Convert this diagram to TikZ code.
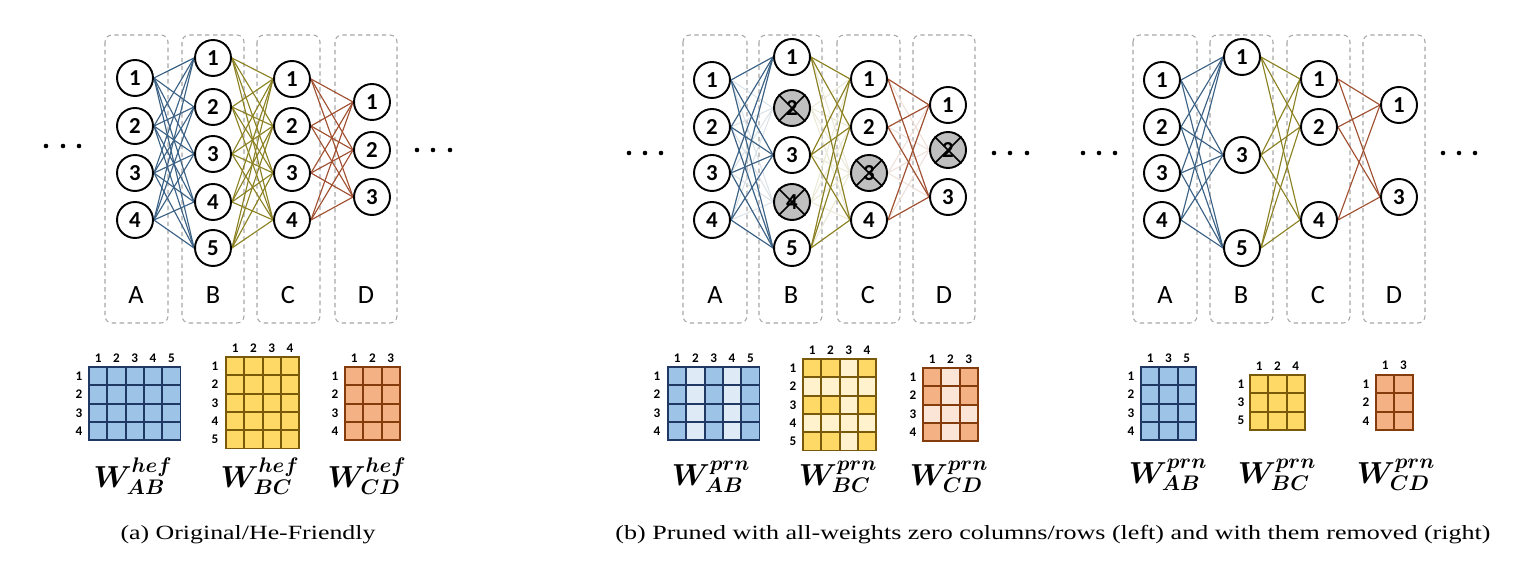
\documentclass[tikz,border=0pt]{standalone}
\usepackage{fontspec}
\usepackage{graphicx}
\usepackage{bm}
\setmainfont{Liberation Serif}
\newfontfamily\calibri{Carlito}
\usetikzlibrary{backgrounds}

\definecolor{edgeab}{RGB}{60,98,134}
\definecolor{edgebc}{RGB}{140,130,35}
\definecolor{edgecd}{RGB}{160,80,48}
\definecolor{cellblue}{RGB}{157,195,230}
\definecolor{cellbluel}{RGB}{222,235,247}
\definecolor{lineblue}{RGB}{31,56,100}
\definecolor{cellyel}{RGB}{255,217,102}
\definecolor{cellyell}{RGB}{255,242,204}
\definecolor{lineyel}{RGB}{120,90,10}
\definecolor{cellor}{RGB}{244,177,131}
\definecolor{cellorl}{RGB}{251,229,214}
\definecolor{lineor}{RGB}{132,60,12}

\tikzset{
  neuron/.style={circle, draw, line width=1.1pt, fill=white, minimum size=0.72cm, inner sep=0pt,
    font=\calibri\bfseries\fontsize{13}{14}\selectfont},
  dropped/.style={neuron, fill=gray!50},
  crossout/.style={line width=0.9pt},
  layerbox/.style={draw=gray!70, dash pattern=on 2.5pt off 2pt, rounded corners=4pt, line width=0.6pt},
  layerlbl/.style={font=\calibri\fontsize{15}{16}\selectfont},
  ab/.style={draw=edgeab, line width=0.65pt},
  bc/.style={draw=edgebc, line width=0.65pt},
  cd/.style={draw=edgecd, line width=0.65pt},
  abfaint/.style={draw=edgeab!18, line width=0.6pt},
  bcfaint/.style={draw=edgebc!18, line width=0.6pt},
  cdfaint/.style={draw=edgecd!18, line width=0.6pt},
  cellab/.style={fill=cellblue, draw=lineblue, line width=1.1pt},
  cellabl/.style={fill=cellbluel, draw=lineblue, line width=1.1pt},
  cellbc/.style={fill=cellyel, draw=lineyel, line width=1.1pt},
  cellbcl/.style={fill=cellyell, draw=lineyel, line width=1.1pt},
  cellcd/.style={fill=cellor, draw=lineor, line width=1.1pt},
  cellcdl/.style={fill=cellorl, draw=lineor, line width=1.1pt},
  idx/.style={font=\calibri\bfseries\fontsize{7.5}{8}\selectfont, inner sep=0pt},
  wlbl/.style={font=\fontsize{17}{19}\selectfont, inner sep=0pt},
  caption/.style={font=\fontsize{11.5}{13}\selectfont, inner sep=0pt}
}

% one weight matrix: x, y, cols, rows, cell style
\newcommand{\weightgrid}[5]{%
  \foreach \c in {1,...,#3} \foreach \r in {1,...,#4}
    \draw[#5] ({#1+(\c-1)*18.3},{#2+(\r-1)*18.3}) rectangle ++(18.3,18.3);
}

\begin{document}
\begin{tikzpicture}[x=0.02cm, y=-0.02cm]
\useasboundingbox (0,0) rectangle (1538,570);

% (a) original network
\foreach \n/\y in {1/78,2/126,3/173,4/220} \node[neuron] (hA\n) at (135,\y) {\n};
\foreach \n/\y in {1/58,2/107,3/154,4/202,5/248} \node[neuron] (hB\n) at (213,\y) {\n};
\foreach \n/\y in {1/79,2/126,3/173,4/220} \node[neuron] (hC\n) at (292,\y) {\n};
\foreach \n/\y in {1/102,2/150,3/197} \node[neuron] (hD\n) at (372,\y) {\n};
\foreach \s/\x in {A/136,B/213,C/288,D/366} \node[layerlbl] (hl\s) at (\x,295) {\s};
\begin{scope}[on background layer]
\foreach \xa/\xb in {105/168,182/244,257/320,335/397} \draw[layerbox] (\xa,35) rectangle (\xb,323);
\foreach \i in {1,...,4} \foreach \j in {1,...,5} \draw[ab] (hA\i.east) -- (hB\j.west);
\foreach \i in {1,...,5} \foreach \j in {1,...,4} \draw[bc] (hB\i.east) -- (hC\j.west);
\foreach \i in {1,...,4} \foreach \j in {1,...,3} \draw[cd] (hC\i.east) -- (hD\j.west);
\end{scope}
\foreach \x in {46,63,79} \fill (\x,146) circle (1.3pt);
\foreach \x in {417,433,450} \fill (\x,150) circle (1.3pt);

% (a) matrices
\weightgrid{89}{367}{5}{4}{cellab}
\weightgrid{226}{357}{4}{5}{cellbc}
\weightgrid{345}{367}{3}{4}{cellcd}
\foreach \c in {1,...,5} \node[idx] (hABc\c) at ({89+(\c-0.5)*18.3},358) {\c};
\foreach \r in {1,...,4} \node[idx] (hABr\r) at (79,{367+(\r-0.5)*18.3}) {\r};
\foreach \c in {1,...,4} \node[idx] (hBCc\c) at ({226+(\c-0.5)*18.3},348) {\c};
\foreach \r in {1,...,5} \node[idx] (hBCr\r) at (215,{357+(\r-0.5)*18.3}) {\r};
\foreach \c in {1,...,3} \node[idx] (hCDc\c) at ({345+(\c-0.5)*18.3},358) {\c};
\foreach \r in {1,...,4} \node[idx] (hCDr\r) at (335,{367+(\r-0.5)*18.3}) {\r};
\node[wlbl] (hWab) at (133,476) {$\bm{W}^{\bm{hef}}_{\bm{AB}}$};
\node[wlbl] (hWbc) at (260,476) {$\bm{W}^{\bm{hef}}_{\bm{BC}}$};
\node[wlbl] (hWcd) at (367,476) {$\bm{W}^{\bm{hef}}_{\bm{CD}}$};
\node[caption] (capa) at (248,535) {\scalebox{1.28}[1]{(a) Original/He-Friendly}};

% (b) pruned network, zero rows/columns kept
\foreach \n/\y in {1/80,2/127,3/173,4/220} \node[neuron] (pA\n) at (712,\y) {\n};
\foreach \n/\y in {1/57,3/155,5/248} \node[neuron] (pB\n) at (792,\y) {\n};
\foreach \n/\y in {2/108,4/202} \node[dropped] (pB\n) at (792,\y) {\n};
\foreach \n/\y in {1/79,2/127,4/220} \node[neuron] (pC\n) at (869,\y) {\n};
\node[dropped] (pC3) at (869,173) {3};
\foreach \n/\y in {1/105,3/197} \node[neuron] (pD\n) at (948,\y) {\n};
\node[dropped] (pD2) at (948,150) {2};
\foreach \k in {pB2,pB4,pC3,pD2}
  \draw[crossout] (\k.north west) -- (\k.south east) (\k.north east) -- (\k.south west);
\foreach \s/\x in {A/715,B/791,C/868,D/944} \node[layerlbl] (pl\s) at (\x,295) {\s};
\begin{scope}[on background layer]
\foreach \xa/\xb in {683/747,759/822,837/900,913/975} \draw[layerbox] (\xa,35) rectangle (\xb,323);
\foreach \i in {1,...,4} \foreach \j in {1,...,5} \draw[abfaint] (pA\i.east) -- (pB\j.west);
\foreach \i in {1,...,5} \foreach \j in {1,...,4} \draw[bcfaint] (pB\i.east) -- (pC\j.west);
\foreach \i in {1,...,4} \foreach \j in {1,...,3} \draw[cdfaint] (pC\i.east) -- (pD\j.west);
\foreach \i in {1,...,4} \foreach \j in {1,3,5} \draw[ab] (pA\i.east) -- (pB\j.west);
\foreach \i in {1,3,5} \foreach \j in {1,2,4} \draw[bc] (pB\i.east) -- (pC\j.west);
\foreach \i in {1,2,4} \foreach \j in {1,3} \draw[cd] (pC\i.east) -- (pD\j.west);
\end{scope}
\foreach \x in {629,645,661} \fill (\x,153) circle (1.3pt);
\foreach \x in {994,1010,1027} \fill (\x,153) circle (1.3pt);

% (b) matrices, left
\weightgrid{668}{367}{5}{4}{cellab}
\foreach \c in {2,4} \foreach \r in {1,...,4}
  \draw[cellabl] ({668+(\c-1)*18.3},{367+(\r-1)*18.3}) rectangle ++(18.3,18.3);
\weightgrid{803}{359}{4}{5}{cellbc}
\foreach \c in {1,...,4} \foreach \r in {2,4}
  \draw[cellbcl] ({803+(\c-1)*18.3},{359+(\r-1)*18.3}) rectangle ++(18.3,18.3);
\foreach \r in {1,3,5}
  \draw[cellbcl] ({803+2*18.3},{359+(\r-1)*18.3}) rectangle ++(18.3,18.3);
\weightgrid{923}{368}{3}{4}{cellcd}
\foreach \r in {1,...,4}
  \draw[cellcdl] ({923+18.3},{368+(\r-1)*18.3}) rectangle ++(18.3,18.3);
\foreach \c in {1,3}
  \draw[cellcdl] ({923+(\c-1)*18.3},{368+2*18.3}) rectangle ++(18.3,18.3);
\foreach \c in {1,...,5} \node[idx] (pABc\c) at ({668+(\c-0.5)*18.3},358) {\c};
\foreach \r in {1,...,4} \node[idx] (pABr\r) at (657,{367+(\r-0.5)*18.3}) {\r};
\foreach \c in {1,...,4} \node[idx] (pBCc\c) at ({803+(\c-0.5)*18.3},350) {\c};
\foreach \r in {1,...,5} \node[idx] (pBCr\r) at (793,{359+(\r-0.5)*18.3}) {\r};
\foreach \c in {1,...,3} \node[idx] (pCDc\c) at ({923+(\c-0.5)*18.3},359) {\c};
\foreach \r in {1,...,4} \node[idx] (pCDr\r) at (913,{368+(\r-0.5)*18.3}) {\r};
\node[wlbl] (pWab) at (711,477) {$\bm{W}^{\bm{prn}}_{\bm{AB}}$};
\node[wlbl] (pWbc) at (838,477) {$\bm{W}^{\bm{prn}}_{\bm{BC}}$};
\node[wlbl] (pWcd) at (949,477) {$\bm{W}^{\bm{prn}}_{\bm{CD}}$};

% (b) pruned network, zero rows/columns removed
\foreach \n/\y in {1/80,2/127,3/173,4/220} \node[neuron] (rA\n) at (1162,\y) {\n};
\foreach \n/\y in {1/57,3/155,5/248} \node[neuron] (rB\n) at (1242,\y) {\n};
\foreach \n/\y in {1/79,2/127,4/220} \node[neuron] (rC\n) at (1319,\y) {\n};
\foreach \n/\y in {1/105,3/197} \node[neuron] (rD\n) at (1399,\y) {\n};
\foreach \s/\x in {A/1165,B/1241,C/1318,D/1394} \node[layerlbl] (rl\s) at (\x,295) {\s};
\begin{scope}[on background layer]
\foreach \xa/\xb in {1133/1197,1210/1273,1287/1350,1363/1425} \draw[layerbox] (\xa,35) rectangle (\xb,323);
\foreach \i in {1,...,4} \foreach \j in {1,3,5} \draw[ab] (rA\i.east) -- (rB\j.west);
\foreach \i in {1,3,5} \foreach \j in {1,2,4} \draw[bc] (rB\i.east) -- (rC\j.west);
\foreach \i in {1,2,4} \foreach \j in {1,3} \draw[cd] (rC\i.east) -- (rD\j.west);
\end{scope}
\foreach \x in {1083,1099,1115} \fill (\x,153) circle (1.3pt);
\foreach \x in {1443,1459,1475} \fill (\x,153) circle (1.3pt);

% (b) matrices, right
\weightgrid{1141}{367}{3}{4}{cellab}
\weightgrid{1250}{375}{3}{3}{cellbc}
\weightgrid{1376}{375}{2}{3}{cellcd}
\foreach \t [count=\c] in {1,3,5} \node[idx] (rABc\c) at ({1141+(\c-0.5)*18.3},358) {\t};
\foreach \r in {1,...,4} \node[idx] (rABr\r) at (1131,{367+(\r-0.5)*18.3}) {\r};
\foreach \t [count=\c] in {1,2,4} \node[idx] (rBCc\c) at ({1250+(\c-0.5)*18.3},366) {\t};
\foreach \t [count=\r] in {1,3,5} \node[idx] (rBCr\r) at (1241,{375+(\r-0.5)*18.3}) {\t};
\foreach \t [count=\c] in {1,3} \node[idx] (rCDc\c) at ({1376+(\c-0.5)*18.3},365) {\t};
\foreach \t [count=\r] in {1,2,4} \node[idx] (rCDr\r) at (1366,{375+(\r-0.5)*18.3}) {\t};
\node[wlbl] (rWab) at (1168,475) {$\bm{W}^{\bm{prn}}_{\bm{AB}}$};
\node[wlbl] (rWbc) at (1277,475) {$\bm{W}^{\bm{prn}}_{\bm{BC}}$};
\node[wlbl] (rWcd) at (1396,475) {$\bm{W}^{\bm{prn}}_{\bm{CD}}$};

\node[caption] (capb) at (1053,535) {\scalebox{1.29}[1]{(b) Pruned with all-weights zero columns/rows (left) and with them removed (right)}};
\end{tikzpicture}
\end{document}
